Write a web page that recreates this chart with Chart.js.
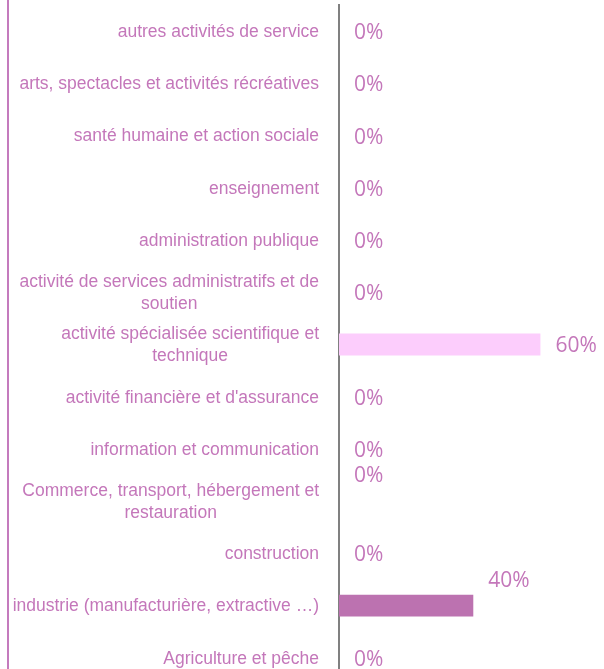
<!DOCTYPE html>
<html lang="fr">
<head>
  <meta charset="UTF-8">
  <title>Répartition par secteur</title>
  <script src="https://cdn.jsdelivr.net/npm/chart.js"></script>
  <style>
    html, body { margin: 0; padding: 0; background: #fff; overflow: hidden; }
    #wrap { position: relative; width: 604px; height: 689px; }
    #bordure { position: absolute; left: 7px; top: 0; width: 2px; height: 689px; background: #c47bbd; }
  </style>
</head>
<body>
  <div id="wrap">
    <div id="bordure"></div>
    <canvas id="graph" width="604" height="689"></canvas>
  </div>

  <script>
    // Secteurs d'activité (ordre d'affichage, de haut en bas)
    const secteurs = [
      'autres activités de service',
      'arts, spectacles et activités récréatives',
      'santé humaine et action sociale',
      'enseignement',
      'administration publique',
      ['activité de services administratifs et de', 'soutien'],
      ['activité spécialisée scientifique et', 'technique'],
      "activité financière et d'assurance",
      'information et communication',
      ['Commerce, transport, hébergement et', 'restauration'],
      'construction',
      'industrie (manufacturière, extractive …)',
      'Agriculture et pêche'
    ];
    const pourcentages = [0, 0, 0, 0, 0, 0, 60, 0, 0, 0, 0, 40, 0];
    const couleursBarres = ['#fccdfc', '#fccdfc', '#fccdfc', '#fccdfc', '#fccdfc', '#fccdfc', '#fccdfc',
                            '#fccdfc', '#fccdfc', '#fccdfc', '#fccdfc', '#bc72b0', '#fccdfc'];

    const couleurTexte = '#c477ba';

    // libellés des secteurs : bloc aligné à droite, lignes centrées entre elles
    const libelles = {
      id: 'libelles',
      afterDraw(chart) {
        const ctx = chart.ctx;
        const y = chart.scales.y;
        const droite = chart.chartArea.left - 20;
        ctx.save();
        ctx.font = '17.5px "Liberation Sans", Arial, sans-serif';
        ctx.fillStyle = couleurTexte;
        ctx.textAlign = 'center';
        ctx.textBaseline = 'middle';
        secteurs.forEach((lib, i) => {
          const lignes = Array.isArray(lib) ? lib : [lib];
          const larg = Math.max(...lignes.map(l => ctx.measureText(l).width));
          const cx = droite - larg / 2;
          const cy = y.getPixelForTick(i) + 1;
          lignes.forEach((l, k) => {
            ctx.fillText(l, cx, cy + (k - (lignes.length - 1) / 2) * 22);
          });
        });
        ctx.restore();
      }
    };

    // étiquettes de valeur dessinées à droite des barres
    const etiquettes = {
      id: 'etiquettes',
      afterDatasetsDraw(chart, args, opts) {
        const ctx = chart.ctx;
        const meta = chart.getDatasetMeta(0);
        ctx.save();
        ctx.font = '21px "Open Sans"';
        ctx.fillStyle = couleurTexte;
        ctx.textAlign = 'left';
        ctx.textBaseline = 'middle';
        meta.data.forEach((bar, i) => {
          const decal = opts.remonter.includes(i) ? 27 : 0;
          ctx.fillText(pourcentages[i] + '%', bar.x + 15, bar.y + 2 - decal);
        });
        ctx.restore();
      }
    };

    new Chart(document.getElementById('graph'), {
      type: 'bar',
      data: {
        labels: secteurs,
        datasets: [{
          data: pourcentages,
          backgroundColor: couleursBarres,
          borderWidth: 0,
          barPercentage: 0.42,
          categoryPercentage: 1
        }]
      },
      options: {
        indexAxis: 'y',
        responsive: false,
        animation: false,
        layout: { padding: { top: 5, bottom: 5, left: 0, right: 30 } },
        plugins: {
          legend: { display: false },
          tooltip: { enabled: false },
          etiquettes: { remonter: [9, 11] }
        },
        scales: {
          x: { display: false, min: 0, max: 70 },
          y: {
            afterFit(scale) {
              scale.width = 339;
              scale.paddingTop = 0;
              scale.paddingBottom = 0;
            },
            grid: { display: false, drawTicks: false },
            border: { display: true, color: '#808080', width: 2 },
            ticks: { display: false }
          }
        }
      },
      plugins: [etiquettes, libelles]
    });
  </script>
</body>
</html>
